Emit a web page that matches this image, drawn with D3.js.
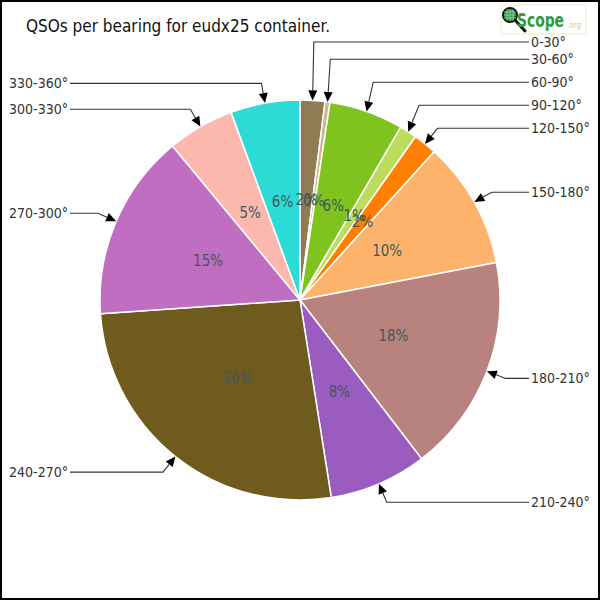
<!DOCTYPE html>
<html>
<head>
<meta charset="utf-8">
<script src="https://cdn.jsdelivr.net/npm/d3@7"></script>
<style>
  html, body { margin: 0; padding: 0; background: #fff; }
  svg { display: block; }
  text { font-stretch: condensed; }
</style>
</head>
<body>
<svg id="chart" width="600" height="600"></svg>
<script>
// ---- data ----
const categories = ["0-30°", "30-60°", "60-90°", "90-120°", "120-150°", "150-180°",
                    "180-210°", "210-240°", "240-270°", "270-300°", "300-330°", "330-360°"];
const values = [2.0, 0.4, 6.0, 1.4, 1.9, 10.3, 17.6, 7.9, 26.4, 15.1, 5.4, 5.6];
const colors = ["#917b54", "#cdb68c", "#80c21e", "#bcdd5b", "#ff7f00", "#fdb36b",
                "#b8827e", "#9b5cbf", "#6e5b1d", "#c06ec2", "#fcb8ac", "#2ddbd6"];
const title = "QSOs per bearing for eudx25 container.";

// ---- layout ----
const W = 600, H = 600;
const cx = 300, cy = 300, R = 200;
const labelFont = "'DejaVu Sans Condensed', 'DejaVu Sans', sans-serif";

const svg = d3.select("#chart");

// border
svg.append("rect").attr("x", 1).attr("y", 1).attr("width", W - 2).attr("height", H - 2)
  .attr("fill", "#fff").attr("stroke", "#000").attr("stroke-width", 2);

// title
svg.append("text").attr("x", 26).attr("y", 32)
  .attr("font-family", labelFont).attr("font-size", 17).attr("fill", "#111")
  .text(title);

// logo
const logo = svg.append("g").attr("transform", "translate(501,5)");
logo.append("rect").attr("width", 85).attr("height", 29).attr("rx", 3)
  .attr("fill", "#fff").attr("stroke", "#e6efc4").attr("stroke-width", 1);
logo.append("line").attr("x1", 14).attr("y1", 15).attr("x2", 24).attr("y2", 26)
  .attr("stroke", "#111").attr("stroke-width", 3).attr("stroke-linecap", "round");
logo.append("circle").attr("cx", 9).attr("cy", 10).attr("r", 7)
  .attr("fill", "#2a9a46").attr("stroke", "#111").attr("stroke-width", 2);
[-3, 0, 3].forEach(o => {
  logo.append("line").attr("x1", 9 + o).attr("y1", 4).attr("x2", 9 + o).attr("y2", 16)
    .attr("stroke", "#9fdcae").attr("stroke-width", 0.7);
  logo.append("line").attr("x1", 3).attr("y1", 10 + o).attr("x2", 15).attr("y2", 10 + o)
    .attr("stroke", "#9fdcae").attr("stroke-width", 0.7);
});
logo.append("text").attr("x", 16).attr("y", 22)
  .attr("font-family", labelFont).attr("font-size", 20).attr("font-weight", "bold")
  .attr("textLength", 47).attr("lengthAdjust", "spacingAndGlyphs")
  .attr("fill", "#2f9a3e").text("Scope");
logo.append("text").attr("x", 66).attr("y", 23)
  .attr("font-family", labelFont).attr("font-size", 8)
  .attr("fill", "#b9da8e").text(".org");

// pie
const pie = d3.pie().sort(null).value(d => d.v).startAngle(0).endAngle(2 * Math.PI);
const data = categories.map((c, i) => ({ c, v: values[i], col: colors[i] }));
const arcs = pie(data);
const total = d3.sum(values);
const arc = d3.arc().innerRadius(0).outerRadius(R);
const labelArc = d3.arc().innerRadius(R * 0.5).outerRadius(R * 0.5);

const g = svg.append("g").attr("transform", `translate(${cx},${cy})`);
g.selectAll("path.slice").data(arcs).join("path")
  .attr("class", "slice")
  .attr("d", arc)
  .attr("fill", d => d.data.col)
  .attr("stroke", "#fff").attr("stroke-width", 1.5).attr("stroke-linejoin", "round");

// percentage labels
g.selectAll("text.pct").data(arcs).join("text")
  .attr("class", "pct")
  .attr("transform", d => `translate(${labelArc.centroid(d)})`)
  .attr("text-anchor", "middle").attr("dominant-baseline", "central")
  .attr("font-family", labelFont).attr("font-size", 15).attr("fill", "#3e5959")
  .text(d => Math.round(d.data.v / total * 100) + "%");

// callout labels with arrows
const LR = 220, gap = 23;
const items = arcs.map(d => {
  const mid = (d.startAngle + d.endAngle) / 2;
  return {
    d, mid,
    right: mid < Math.PI,
    tip: [R * Math.sin(mid), -R * Math.cos(mid)],
    ex: LR * Math.sin(mid),
    y: -LR * Math.cos(mid)
  };
});
function resolve(list) {
  const up = list.filter(o => o.y < 0).sort((a, b) => b.y - a.y);
  for (let i = 1; i < up.length; i++) up[i].y = Math.min(up[i].y, up[i - 1].y - gap);
  const minY = 42 - cy;
  up.forEach(o => { if (o.y < minY) o.y = minY; });
  const dn = list.filter(o => o.y >= 0).sort((a, b) => a.y - b.y);
  for (let i = 1; i < dn.length; i++) dn[i].y = Math.max(dn[i].y, dn[i - 1].y + gap);
}
resolve(items.filter(o => o.right));
resolve(items.filter(o => !o.right));

const rightLineEnd = 529 - cx, leftLineEnd = 70 - cx;
const lg = g.append("g");
items.forEach(o => {
  const [tx, ty] = o.tip;
  const ex = o.ex, ey = o.y;
  const ang = Math.atan2(ty - ey, tx - ex);
  const L = 10, Wd = 4.5;
  const bx = tx - L * Math.cos(ang), by = ty - L * Math.sin(ang);
  const px = -Math.sin(ang) * Wd, py = Math.cos(ang) * Wd;
  const lineEnd = o.right ? rightLineEnd : leftLineEnd;
  lg.append("path")
    .attr("d", d3.line()([[lineEnd, ey], [ex, ey], [bx, by]]))
    .attr("fill", "none").attr("stroke", "#333").attr("stroke-width", 1.1);
  lg.append("path")
    .attr("d", `M${tx},${ty}L${bx + px},${by + py}L${bx - px},${by - py}Z`)
    .attr("fill", "#000");
  lg.append("text")
    .attr("x", o.right ? lineEnd + 2 : lineEnd - 2).attr("y", ey)
    .attr("text-anchor", o.right ? "start" : "end")
    .attr("dominant-baseline", "central")
    .attr("font-family", labelFont).attr("font-size", 14).attr("fill", "#333")
    .text(o.d.data.c);
});
</script>
</body>
</html>
